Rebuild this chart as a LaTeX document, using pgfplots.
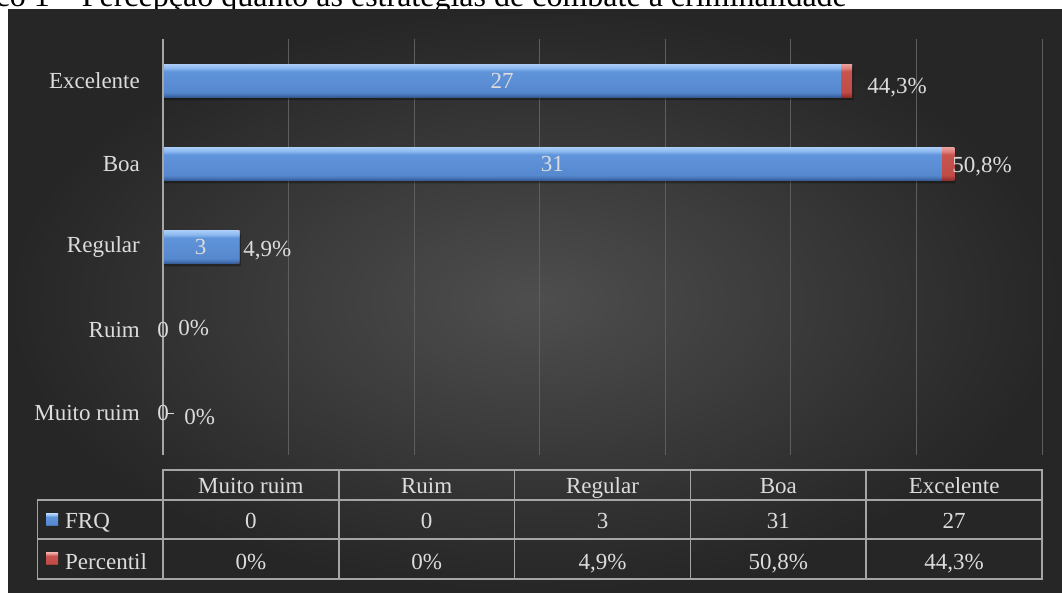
\documentclass[border=0pt]{standalone}
\usepackage{fontspec}
\setmainfont{Liberation Serif}
\usepackage{pgfplots}
\pgfplotsset{compat=1.18}
\definecolor{txt}{HTML}{DCDCDC}
\definecolor{pin}{HTML}{4E4E4E}
\definecolor{pout}{HTML}{262626}
\definecolor{gridc}{HTML}{5E5E5E}
\definecolor{axc}{HTML}{A6A6A6}
\definecolor{tblc}{HTML}{A5A5A5}
\pgfdeclareverticalshading{bluebevel}{100bp}{%
  color(0bp)=(rgb,255:red,52;green,90;blue,145);
  color(25bp)=(rgb,255:red,52;green,90;blue,145);
  color(29bp)=(rgb,255:red,72;green,118;blue,185);
  color(33bp)=(rgb,255:red,86;green,136;blue,206);
  color(64bp)=(rgb,255:red,96;green,148;blue,218);
  color(69bp)=(rgb,255:red,140;green,185;blue,240);
  color(75bp)=(rgb,255:red,170;green,205;blue,248);
  color(100bp)=(rgb,255:red,170;green,205;blue,248)}
\pgfdeclareverticalshading{redbevel}{100bp}{%
  color(0bp)=(rgb,255:red,140;green,45;blue,42);
  color(25bp)=(rgb,255:red,140;green,45;blue,42);
  color(29bp)=(rgb,255:red,170;green,60;blue,57);
  color(33bp)=(rgb,255:red,192;green,76;blue,72);
  color(64bp)=(rgb,255:red,200;green,84;blue,80);
  color(69bp)=(rgb,255:red,222;green,130;blue,126);
  color(75bp)=(rgb,255:red,236;green,160;blue,156);
  color(100bp)=(rgb,255:red,236;green,160;blue,156)}
\tikzset{lbl/.style={font=\fontsize{23}{27}\selectfont, text=txt, inner sep=0pt}}
\pgfplotsset{
  bluebar/.style={xbar, bar shift=0pt, bar width=33pt, draw=none, shade, shading=bluebevel},
  redbar/.style={xbar, bar shift=0pt, bar width=33pt, draw=none, shade, shading=redbevel},
  shadowbar/.style={xbar, bar shift=-3pt, bar width=33pt, draw=none, fill=black, fill opacity=0.3},
}
\begin{document}
\begin{tikzpicture}[x=1pt,y=1pt]
\clip (0,0) rectangle (1062,593);
\fill[white] (0,0) rectangle (1062,593);
\node[anchor=base east, font=\fontsize{32}{36}\selectfont, inner sep=0pt] at (847,586.5) {Gráfico 1 – Percepção quanto às estratégias de combate à criminalidade};
\shade[inner color=pin, outer color=pout] (8,0) rectangle (1062,583);
\begin{axis}[
  at={(163pt,138pt)}, anchor=south west, scale only axis,
  width=879pt, height=416pt,
  xmin=0, xmax=35, ymin=-0.5, ymax=4.5,
  xtick={5,10,...,35}, xticklabels={},
  xmajorgrids, grid style={gridc, line width=1pt},
  ytick={0,...,4},
  yticklabels={Muito ruim,Ruim,Regular,Boa,Excelente},
  axis line style={draw=none},
  major tick length=0pt,
  yticklabel style={font=\fontsize{23}{27}\selectfont, text=txt, inner sep=0pt, anchor=east, xshift=-23pt},
  clip=false,
]
% soft shadow under the bars
\addplot[shadowbar] coordinates {(3.1,2) (31.55,3) (27.5,4)};
% Percentil bars (drawn from 0 to FRQ + percentil share; FRQ bar covers the rest)
\addplot[redbar] coordinates {(3.049,2)};
\addplot[redbar] coordinates {(31.508,3)};
\addplot[redbar] coordinates {(27.443,4)};
% FRQ bars
\addplot[bluebar] coordinates {(3,2)};
\addplot[bluebar] coordinates {(31,3)};
\addplot[bluebar] coordinates {(27,4)};
\draw[axc, line width=1.5pt] (axis cs:0,-0.5) -- (axis cs:0,4.5);
\node[lbl] at (axis cs:13.5,4) {27};
\node[lbl] at (axis cs:15.5,3) {31};
\node[lbl] at (axis cs:1.5,2) {3};
\node[lbl] at (axis cs:0,1) {0};
\node[lbl] at (axis cs:0,0) {0};
\draw[txt, line width=1pt] (axis cs:0.12,0) -- (axis cs:0.42,0);
\node[lbl, anchor=west] at (axis cs:28.04,3.92) {44,3\%};
\node[lbl, anchor=west] at (axis cs:31.42,2.97) {50,8\%};
\node[lbl, anchor=west] at (axis cs:3.19,1.96) {4,9\%};
\node[lbl, anchor=west] at (axis cs:0.6,1.03) {0\%};
\node[lbl, anchor=west] at (axis cs:0.84,-0.04) {0\%};
\end{axis}
% data table
\draw[tblc, line width=1.5pt] (163,123) rectangle (1042,93);
\draw[tblc, line width=1.5pt] (37.5,93) rectangle (1042,14);
\draw[tblc, line width=1.5pt] (37.5,54) -- (1042,54);
\foreach \x in {338.8,514.6,690.4,866.2} \draw[tblc, line width=1.5pt] (\x,123) -- (\x,14);
\draw[tblc, line width=1.5pt] (163,93) -- (163,14);
\foreach \x/\t in {250.9/Muito ruim,426.7/Ruim,602.5/Regular,778.3/Boa,954.1/Excelente} \node[lbl, anchor=base] at (\x,99.5) {\t};
\foreach \x/\t in {250.9/0,426.7/0,602.5/3,778.3/31,954.1/27} \node[lbl, anchor=base] at (\x,64) {\t};
\foreach \x/\t in {250.9/0\%,426.7/0\%,602.5/{4,9\%},778.3/{50,8\%},954.1/{44,3\%}} \node[lbl, anchor=base] at (\x,23.5) {\t};
\node[lbl, anchor=base west] at (65,64) {FRQ};
\node[lbl, anchor=base west] at (65,23.5) {Percentil};
\shade[shading=bluebevel] (46,67) rectangle (58,79);
\shade[shading=redbevel] (46,28) rectangle (58,40);
\end{tikzpicture}
\end{document}
